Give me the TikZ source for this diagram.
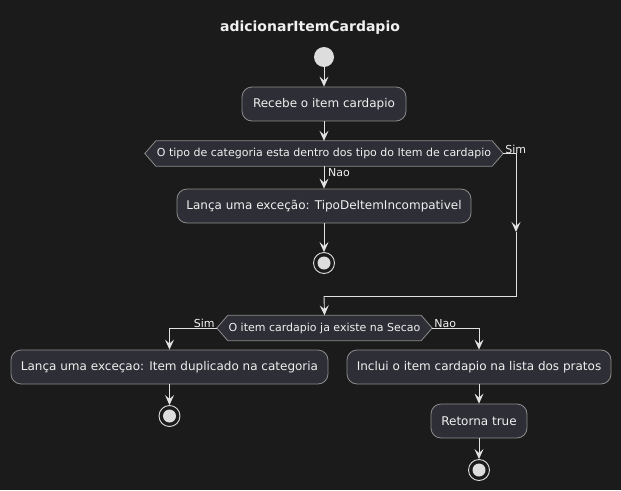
\documentclass[tikz,border=0pt]{standalone}
\usepackage{fontspec}
\setmainfont{DejaVu Sans}
\usetikzlibrary{arrows.meta}
\definecolor{bgc}{HTML}{1B1B1B}
\definecolor{boxfill}{HTML}{2E2E36}
\definecolor{boxline}{HTML}{8C8C8C}
\definecolor{linec}{HTML}{E2E2E2}
\definecolor{dotc}{HTML}{DDDDDD}
\definecolor{txt}{HTML}{F0F0F0}
\tikzset{
  act/.style={draw=boxline, fill=boxfill, rounded corners=10pt, minimum height=34pt, inner sep=0pt, text=txt, font=\fontsize{12}{14}\selectfont, line width=0.8pt},
  hexa/.style={minimum height=25pt, inner sep=0pt, text=txt, font=\fontsize{11}{13}\selectfont},
  hexline/.style={draw=boxline, fill=boxfill, line width=0.8pt},
  flow/.style={draw=linec, line width=0.9pt, -{Stealth[length=10pt,width=9pt,inset=4pt]}},
  plain/.style={draw=linec, line width=0.9pt},
  lbl/.style={text=txt, font=\fontsize{11}{13}\selectfont, inner sep=1pt},
  startdot/.style={circle, fill=dotc, minimum size=20pt, inner sep=0pt},
  endring/.style={circle, draw=dotc, line width=0.9pt, fill=bgc, minimum size=21pt, inner sep=0pt},
}
\newcommand{\hexdraw}[2]{%
  \path[hexline] (#1.west) -- ([xshift=#2]#1.north west) -- ([xshift=-#2]#1.north east) -- (#1.east) -- ([xshift=-#2]#1.south east) -- ([xshift=#2]#1.south west) -- cycle;}
\newcommand{\finaldot}[2]{%
  \node[endring] (#1) at #2 {};
  \fill[dotc] (#1.center) circle (6.5pt);}
\begin{document}
\begin{tikzpicture}[x=1pt,y=-1pt]
\fill[bgc] (0,0) rectangle (621,490);
\useasboundingbox (0,0) rectangle (621,490);

\node[text=txt, font=\fontsize{14}{16}\selectfont\bfseries] (title) at (310,28) {adicionarItemCardapio};

\node[startdot] (start) at (324,57) {};
\node[act, minimum width=164pt] (recebe) at (324,104) {Recebe o item cardapio};

\node[hexa, minimum width=358pt] (d1) at (324,153.5) {};
\node[act, minimum width=294pt] (lanca1) at (324,206) {Lança uma exceção: TipoDeItemIncompativel};
\finaldot{end1}{(324,263)}

\node[hexa, minimum width=215pt] (d2) at (324.5,328) {};
\node[act, minimum width=317pt] (lanca2) at (169.5,367) {Lança uma exceçao: Item duplicado na categoria};
\finaldot{end2}{(169.5,416)}
\node[act, minimum width=264pt] (inclui) at (479,367) {Inclui o item cardapio na lista dos pratos};
\node[act, minimum width=96pt] (retorna) at (479,421) {Retorna true};
\finaldot{end3}{(479,470)}

% hexagon outlines, then their texts
\hexdraw{d1}{11}
\node[hexa] (d1text) at (d1.center) {O tipo de categoria esta dentro dos tipo do Item de cardapio};
\hexdraw{d2}{11}
\node[hexa] (d2text) at (d2.center) {O item cardapio ja existe na Secao};

% coordinates for the Sim branch
\coordinate (simcorner) at (516,153.5);
\coordinate (simmid) at (516,232);
\coordinate (simbot) at (516,296);
\coordinate (joinpt) at (324,296);

% connectors
\draw[flow] (start) -- (recebe);
\draw[flow] (recebe) -- (d1);
\draw[flow] (d1) -- (lanca1);
\draw[flow] (lanca1) -- (end1);
\draw[flow] (d1.east) -- (simcorner) -- (simmid);
\draw[plain] (simmid) -- (simbot) -- (joinpt);
\draw[flow] (joinpt) -- (d2.north);
\draw[flow] (d2.west) -| (lanca2.north);
\draw[flow] (lanca2) -- (end2);
\draw[flow] (d2.east) -| (inclui.north);
\draw[flow] (inclui) -- (retorna);
\draw[flow] (retorna) -- (end3);

% labels
\node[lbl, anchor=south west] (simlbl1) at ([xshift=1pt,yshift=-1pt]d1.east) {Sim};
\node[lbl, anchor=west] (naolbl1) at ([xshift=3pt,yshift=-6pt]d1.south) {Nao};
\node[lbl, anchor=south east] (simlbl2) at ([xshift=-1pt,yshift=-1pt]d2.west) {Sim};
\node[lbl, anchor=south west] (naolbl2) at ([xshift=1pt,yshift=-1pt]d2.east) {Nao};
\end{tikzpicture}
\end{document}
